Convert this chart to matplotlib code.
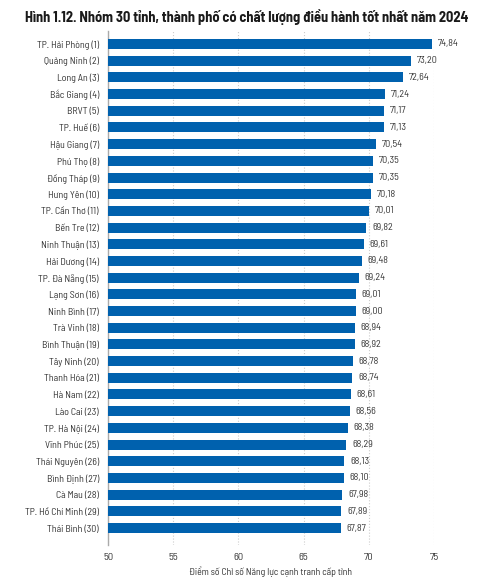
import matplotlib.pyplot as plt

plt.rcParams['font.family'] = ['Barlow Semi Condensed', 'DejaVu Sans']

provinces = ['TP. Hải Phòng (1)', 'Quảng Ninh (2)', 'Long An (3)', 'Bắc Giang (4)',
             'BRVT (5)', 'TP. Huế (6)', 'Hậu Giang (7)', 'Phú Thọ (8)',
             'Đồng Tháp (9)', 'Hưng Yên (10)', 'TP. Cần Thơ (11)', 'Bến Tre (12)',
             'Ninh Thuận (13)', 'Hải Dương (14)', 'TP. Đà Nẵng (15)', 'Lạng Sơn (16)',
             'Ninh Bình (17)', 'Trà Vinh (18)', 'Bình Thuận (19)', 'Tây Ninh (20)',
             'Thanh Hóa (21)', 'Hà Nam (22)', 'Lào Cai (23)', 'TP. Hà Nội (24)',
             'Vĩnh Phúc (25)', 'Thái Nguyên (26)', 'Bình Định (27)', 'Cà Mau (28)',
             'TP. Hồ Chí Minh (29)', 'Thái Bình (30)']
scores = [74.84, 73.20, 72.64, 71.24, 71.17, 71.13, 70.54, 70.35, 70.35, 70.18,
          70.01, 69.82, 69.61, 69.48, 69.24, 69.01, 69.00, 68.94, 68.92, 68.78,
          68.74, 68.61, 68.56, 68.38, 68.29, 68.13, 68.10, 67.98, 67.89, 67.87]
xticks = [50, 55, 60, 65, 70, 75]

fig = plt.figure(figsize=(4.99, 5.80), dpi=100)
ax = fig.add_axes([0.2164, 0.0603, 0.6533, 0.8863])

pos = list(range(len(provinces)))
ax.barh(pos, [s - 50 for s in scores], left=50, height=0.6, color='#0061ae', zorder=3)

for p, s in zip(pos, scores):
    ax.text(s + 0.45, p, f'{s:.2f}'.replace('.', ','), va='center', ha='left',
            fontsize=7.2, color='#333333')

ax.set_yticks(pos)
ax.set_yticklabels(provinces, fontsize=7.1, color='#333333')
ax.set_ylim(len(provinces) - 1 + 1.02, -0.78)
ax.set_xlim(50, 75)
ax.set_xticks(xticks)
ax.set_xticklabels([str(t) for t in xticks], fontsize=7.5, color='#333333')
ax.tick_params(length=0, pad=6.5)
ax.tick_params(axis='x', pad=6)

ax.grid(axis='x', linestyle=':', color='#cccccc', linewidth=0.8, zorder=0)
for side in ['top', 'right', 'bottom']:
    ax.spines[side].set_visible(False)
ax.spines['left'].set_color('#aaaaaa')
ax.spines['left'].set_linewidth(1)

ax.set_xlabel('Điểm số Chỉ số Năng lực cạnh tranh cấp tỉnh', fontsize=7,
              color='#333333', labelpad=3)

fig.text(0.05, 0.985, 'Hình 1.12. Nhóm 30 tỉnh, thành phố có chất lượng điều hành tốt nhất năm 2024',
         fontsize=10.4, fontweight='bold', color='#1a1a1a', va='top', ha='left')

plt.savefig('out.png', dpi=100)
